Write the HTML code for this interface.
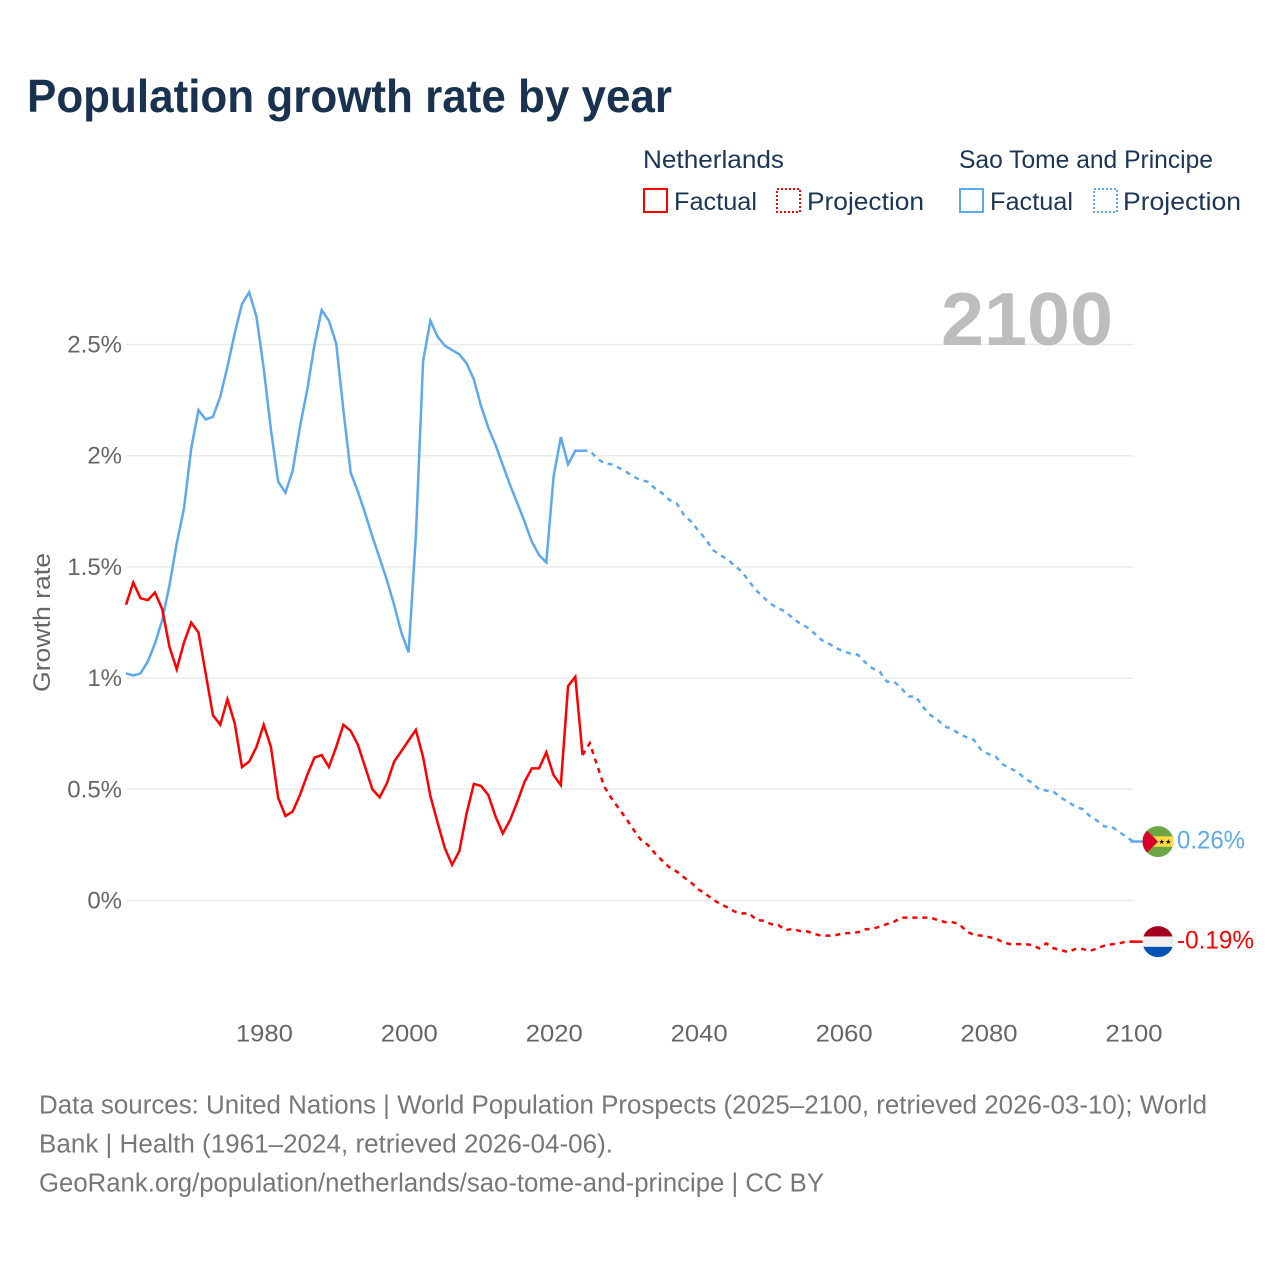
<!DOCTYPE html>
<html lang="en">
<head>
<meta charset="utf-8">
<title>Population growth rate by year</title>
<style>
html,body{margin:0;padding:0;background:#fff;}
svg{display:block;font-family:"Liberation Sans",sans-serif;}
.legend{font-size:25px;fill:#1c3557;}
.foot{font-size:25.5px;fill:#777;}
.tick{font-size:24px;fill:#666;}
</style>
</head>
<body>
<svg id="chart" width="1280" height="1280" viewBox="0 0 1280 1280" xmlns="http://www.w3.org/2000/svg">
  <rect x="0" y="0" width="1280" height="1280" fill="#fff"/>
  <text x="27" y="112" font-size="46" font-weight="700" fill="#18324f" textLength="645" lengthAdjust="spacingAndGlyphs">Population growth rate by year</text>

  <g>
    <text class="legend" x="643" y="168" textLength="141" lengthAdjust="spacingAndGlyphs">Netherlands</text>
    <text class="legend" x="959" y="168" textLength="254" lengthAdjust="spacingAndGlyphs">Sao Tome and Principe</text>
    <rect x="644" y="189" width="23" height="23" fill="none" stroke="#ff0000" stroke-width="2"/>
    <text class="legend" x="674" y="210" textLength="83" lengthAdjust="spacingAndGlyphs">Factual</text>
    <rect x="777" y="189" width="23" height="23" fill="none" stroke="#ff0000" stroke-width="2" stroke-dasharray="2 2"/>
    <text class="legend" x="807" y="210" textLength="117" lengthAdjust="spacingAndGlyphs">Projection</text>
    <rect x="960" y="189" width="23" height="23" fill="none" stroke="#5ea9ee" stroke-width="2"/>
    <text class="legend" x="990" y="210" textLength="83" lengthAdjust="spacingAndGlyphs">Factual</text>
    <rect x="1094" y="189" width="23" height="23" fill="none" stroke="#5ea9ee" stroke-width="2" stroke-dasharray="2 2"/>
    <text class="legend" x="1123" y="210" textLength="118" lengthAdjust="spacingAndGlyphs">Projection</text>
  </g>

  <g id="grid"></g>
  <text x="941" y="345" font-size="75" font-weight="700" fill="#bdbdbd" textLength="172" lengthAdjust="spacingAndGlyphs">2100</text>
  <g id="yticks"></g>
  <g id="xticks"></g>
  <text transform="translate(50,622.5) rotate(-90)" text-anchor="middle" font-size="24.5" fill="#666" textLength="139" lengthAdjust="spacingAndGlyphs">Growth rate</text>

  <g id="series"></g>

  <defs>
    <clipPath id="flag-clip"><circle cx="0" cy="0" r="15.5"/></clipPath>
  </defs>
  <g id="flag-stp">
    <g clip-path="url(#flag-clip)">
      <rect x="-16" y="-16" width="32" height="32" fill="#6da544"/>
      <rect x="-16" y="-5.2" width="32" height="10.4" fill="#ffda44"/>
      <polygon points="-16,-16 0,0 -16,16" fill="#d80027"/>
      <polygon points="3.7,-2.4 4.4,-0.6 6.3,-0.6 4.8,0.6 5.4,2.4 3.7,1.3 2,2.4 2.6,0.6 1.1,-0.6 3,-0.6" fill="#111"/>
      <polygon points="10.3,-2.4 11,-0.6 12.9,-0.6 11.4,0.6 12,2.4 10.3,1.3 8.6,2.4 9.2,0.6 7.7,-0.6 9.6,-0.6" fill="#111"/>
    </g>
  </g>
  <g id="flag-nl">
    <g clip-path="url(#flag-clip)">
      <rect x="-16" y="-16" width="32" height="11" fill="#a2001d"/>
      <rect x="-16" y="-5.2" width="32" height="10.4" fill="#f0f0f0"/>
      <rect x="-16" y="5.2" width="32" height="11" fill="#0052b4"/>
    </g>
  </g>
  <text id="label-stp" x="1177" font-size="25" fill="#5ea9ee" textLength="68" lengthAdjust="spacingAndGlyphs">0.26%</text>
  <text id="label-nl" x="1177" font-size="25" fill="#ff0000" textLength="77" lengthAdjust="spacingAndGlyphs">-0.19%</text>

  <g>
    <text class="foot" x="39" y="1113.5" textLength="1168" lengthAdjust="spacingAndGlyphs">Data sources: United Nations | World Population Prospects (2025–2100, retrieved 2026-03-10); World</text>
    <text class="foot" x="39" y="1152.5" textLength="574" lengthAdjust="spacingAndGlyphs">Bank | Health (1961–2024, retrieved 2026-04-06).</text>
    <text class="foot" x="39" y="1191.5" textLength="785" lengthAdjust="spacingAndGlyphs">GeoRank.org/population/netherlands/sao-tome-and-principe | CC BY</text>
  </g>
</svg>
<script>
// Chart data (percent per year)
const xTickYears = [1980, 2000, 2020, 2040, 2060, 2080, 2100];
const yTickValues = [0, 0.5, 1, 1.5, 2, 2.5];
const yTickLabels = ["0%", "0.5%", "1%", "1.5%", "2%", "2.5%"];
const factualStartYear = 1961;
const projectionStartYear = 2024;

// Netherlands, factual, 1961-2024
const netherlandsFactual = [
  1.33, 1.43, 1.36, 1.35, 1.385, 1.31, 1.14, 1.04, 1.16,
  1.25, 1.205, 1.02, 0.833, 0.79, 0.905, 0.797, 0.60, 0.625, 0.69,
  0.79, 0.69, 0.462, 0.38, 0.40, 0.474, 0.564, 0.642, 0.654, 0.60,
  0.69, 0.79, 0.763, 0.70, 0.60, 0.50, 0.464, 0.527, 0.624, 0.672,
  0.72, 0.767, 0.644, 0.47, 0.35, 0.235, 0.16, 0.222, 0.392, 0.524,
  0.515, 0.474, 0.377, 0.302, 0.362, 0.444, 0.534, 0.594, 0.594, 0.666,
  0.564, 0.519, 0.964, 1.006, 0.654
];
// Sao Tome and Principe, factual, 1961-2024
const saoTomeFactual = [
  1.021, 1.012, 1.021, 1.074, 1.156, 1.261, 1.418, 1.606, 1.763,
  2.033, 2.205, 2.163, 2.175, 2.265, 2.40, 2.55, 2.682, 2.735, 2.625,
  2.393, 2.116, 1.883, 1.834, 1.933, 2.13, 2.295, 2.498, 2.655, 2.607,
  2.505, 2.205, 1.924, 1.838, 1.741, 1.636, 1.539, 1.441, 1.329, 1.204,
  1.116, 1.64, 2.426, 2.607, 2.535, 2.495, 2.475, 2.456, 2.415, 2.343,
  2.223, 2.126, 2.048, 1.958, 1.868, 1.786, 1.703, 1.613, 1.553, 1.52,
  1.906, 2.083, 1.961, 2.022, 2.022
];
// Netherlands, projection, 2024-2100
const netherlandsProjection = [
  0.654, 0.707, 0.609, 0.512, 0.459, 0.414,
  0.369, 0.320, 0.275, 0.250, 0.212, 0.179, 0.149, 0.130, 0.104, 0.080,
  0.050, 0.029, 0.005, -0.016, -0.031, -0.050, -0.058, -0.058, -0.088, -0.091,
  -0.106, -0.11, -0.133, -0.128, -0.137, -0.139, -0.151, -0.158, -0.158, -0.155,
  -0.148, -0.146, -0.143, -0.130, -0.127, -0.118, -0.106, -0.095, -0.077, -0.077,
  -0.077, -0.077, -0.077, -0.088, -0.097, -0.097, -0.107, -0.139, -0.155, -0.158,
  -0.164, -0.170, -0.188, -0.196, -0.196, -0.196, -0.200, -0.215, -0.193, -0.215,
  -0.223, -0.232, -0.218, -0.218, -0.227, -0.215, -0.203, -0.197, -0.193, -0.185,
  -0.185
];
// Sao Tome and Principe, projection, 2024-2100
const saoTomeProjection = [
  2.022, 2.023, 1.988, 1.966, 1.961, 1.946,
  1.928, 1.906, 1.891, 1.883, 1.853, 1.831, 1.801, 1.786, 1.733, 1.703,
  1.663, 1.624, 1.576, 1.553, 1.534, 1.504, 1.479, 1.434, 1.393, 1.362,
  1.333, 1.314, 1.299, 1.269, 1.246, 1.228, 1.201, 1.171, 1.155, 1.135,
  1.12, 1.11, 1.105, 1.071, 1.044, 1.029, 0.984, 0.984, 0.954, 0.917,
  0.917, 0.869, 0.834, 0.812, 0.782, 0.771, 0.749, 0.734, 0.722, 0.677,
  0.659, 0.647, 0.612, 0.594, 0.579, 0.549, 0.530, 0.500, 0.494, 0.489,
  0.462, 0.444, 0.422, 0.411, 0.380, 0.359, 0.333, 0.332, 0.310, 0.287,
  0.265
];

const NS = "http://www.w3.org/2000/svg";
const RED = "#ff0000";
const BLUE = "#5ea9ee";

function xScale(year) { return 126 + (year - 1961) * (1133.3 - 126) / (2100 - 1961); }
function yScale(v) { return 900.5 - v * 222.4; }

function make(tag, attrs) {
  const el = document.createElementNS(NS, tag);
  for (const k in attrs) el.setAttribute(k, attrs[k]);
  return el;
}
function linePath(values, startYear) {
  return values.map((v, i) => (i ? "L" : "M") + xScale(startYear + i).toFixed(2) + " " + yScale(v).toFixed(2)).join("");
}

const gridG = document.getElementById("grid");
const yG = document.getElementById("yticks");
yTickValues.forEach((v, i) => {
  const line = make("line", { x1: xScale(1961), x2: xScale(2100), y1: yScale(v), y2: yScale(v), stroke: "#ebebeb", "stroke-width": 1.5 });
  
  
  gridG.appendChild(line);
  const t = make("text", { x: 122, y: yScale(v) + 8, "text-anchor": "end", class: "tick" });
  
  
  t.textContent = yTickLabels[i];
  yG.appendChild(t);
});

const xG = document.getElementById("xticks");
xTickYears.forEach(year => {
  const t = make("text", { x: xScale(year) + 0.7, y: 1041.5, "text-anchor": "middle", class: "tick", textLength: 57, lengthAdjust: "spacingAndGlyphs" });
  
  
  t.textContent = year;
  xG.appendChild(t);
});

const seriesG = document.getElementById("series");
function addLine(values, startYear, color, dashed) {
  const attrs = { d: linePath(values, startYear), fill: "none", stroke: color, "stroke-width": 2.5, "stroke-linejoin": "miter" };
  if (dashed) attrs["stroke-dasharray"] = "5 5";
  const p = make("path", attrs);
  
  
  seriesG.appendChild(p);
}
addLine(saoTomeFactual, factualStartYear, BLUE, false);
addLine(saoTomeProjection, projectionStartYear, BLUE, true);
addLine(netherlandsFactual, factualStartYear, RED, false);
addLine(netherlandsProjection, projectionStartYear, RED, true);

function addEnd(values, color, flagId, labelId) {
  const y = yScale(values[values.length - 1]);
  const lead = make("line", { x1: xScale(2100) - 3, x2: 1144, y1: y, y2: y, stroke: color, "stroke-width": 2.5 });
  
  
  seriesG.appendChild(lead);
  document.getElementById(flagId).setAttribute("transform", "translate(1158," + y + ")");
  document.getElementById(labelId).setAttribute("y", y + 7);
}
addEnd(saoTomeProjection, BLUE, "flag-stp", "label-stp");
addEnd(netherlandsProjection, RED, "flag-nl", "label-nl");
</script>
</body>
</html>
